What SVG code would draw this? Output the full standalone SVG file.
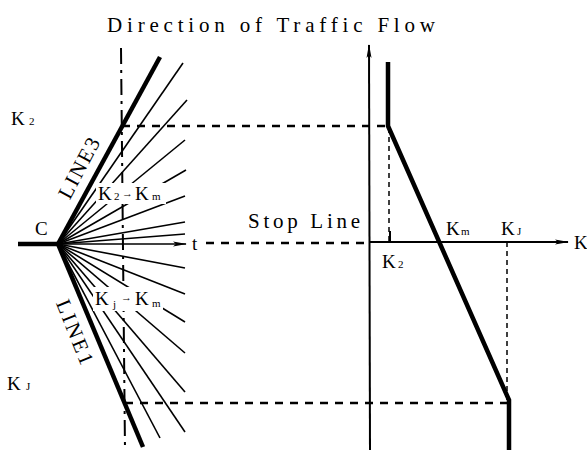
<svg xmlns="http://www.w3.org/2000/svg" width="587" height="450" viewBox="0 0 587 450">
<style>
.thick{stroke:#000;stroke-width:4.5;fill:none}
.fan{stroke:#000;stroke-width:1.6;fill:none}
.dash{stroke:#000;stroke-width:2.5;stroke-dasharray:8 7;fill:none}
.tdash{stroke:#000;stroke-width:1.5;stroke-dasharray:5 4;fill:none}
.axis{stroke:#000;stroke-width:2;fill:none}
.dashdot{stroke:#000;stroke-width:2;stroke-dasharray:16 6 3 6;fill:none}
.mono{font-family:"Liberation Serif",serif;font-size:21px;fill:#000}
.lbl{font-family:"Liberation Serif",serif;font-size:19px;fill:#000}
.sub{font-size:11px}
.arrw{font-size:11px}
.ko{fill:#fff}
</style>
<defs>
<marker id="arr" viewBox="0 0 14 6" refX="13" refY="3" markerWidth="14" markerHeight="6" orient="auto" markerUnits="userSpaceOnUse">
<path d="M0,0.5 L14,3 L0,5.5 L3,3 z" fill="#000"/>
</marker>
</defs>
<g id="connectors">
<line class="dashdot" x1="121" y1="48" x2="125" y2="450"/>
<g id="fan">
<line class="fan" x1="58" y1="244" x2="183" y2="63"/>
<line class="fan" x1="58" y1="244" x2="187" y2="100"/>
<line class="fan" x1="58" y1="244" x2="185" y2="140"/>
<line class="fan" x1="58" y1="244" x2="186" y2="170"/>
<line class="fan" x1="58" y1="244" x2="185" y2="196"/>
<line class="fan" x1="58" y1="244" x2="185" y2="222"/>
<line class="fan" x1="58" y1="244" x2="185" y2="234"/>
<line class="fan" x1="58" y1="244" x2="185" y2="268"/>
<line class="fan" x1="58" y1="244" x2="185" y2="294"/>
<line class="fan" x1="58" y1="244" x2="185" y2="322"/>
<line class="fan" x1="58" y1="244" x2="185" y2="353"/>
<line class="fan" x1="58" y1="244" x2="185" y2="392"/>
<line class="fan" x1="58" y1="244" x2="185" y2="432"/>
<line class="fan" x1="58" y1="244" x2="160" y2="438"/>
</g>
<line class="fan" x1="58" y1="244" x2="186" y2="244" marker-end="url(#arr)"/>
<line class="thick" x1="18" y1="244" x2="60" y2="244"/>
<line id="line3" class="thick" x1="58" y1="244" x2="160" y2="57"/>
<line id="line1" class="thick" x1="58" y1="244" x2="143" y2="447"/>
<line class="dash" x1="122" y1="126" x2="388" y2="126"/>
<line class="dash" x1="125" y1="403" x2="509" y2="403"/>
<line class="dash" x1="206" y1="243" x2="370" y2="243"/>
<line class="axis" x1="370" y1="450" x2="369" y2="45" marker-end="url(#arr)"/>
<line class="axis" x1="370" y1="242" x2="568" y2="242" marker-end="url(#arr)"/>
<line class="tdash" x1="389" y1="128" x2="389" y2="242"/>
<line class="axis" x1="390" y1="231" x2="390" y2="242"/>
<line class="tdash" x1="507" y1="242" x2="507" y2="400"/>
<polyline class="thick" points="388,62 388,126 509,400 509,450"/>
</g>
<rect class="ko" x="96" y="183" width="70" height="21"/>
<rect class="ko" x="93" y="287" width="70" height="24"/>
<g id="title"><text class="mono" x="107" y="32" textLength="328" lengthAdjust="spacing">Direction of Traffic Flow</text></g>
<g id="stop-line"><text class="mono" x="248" y="228" textLength="112" lengthAdjust="spacing">Stop Line</text></g>
<g id="label-C"><text class="lbl" x="35" y="235">C</text></g>
<g id="label-t"><text class="lbl" x="192" y="250">t</text></g>
<g id="label-K2-left"><text class="lbl" x="11" y="125">K<tspan class="sub" x="29">2</tspan></text></g>
<g id="label-KJ-left"><text class="lbl" x="7" y="390">K<tspan class="sub" x="26">J</tspan></text></g>
<g id="label-line3"><text class="mono" font-size="19" transform="translate(79,168) rotate(-62)" x="-33" y="7" textLength="66" lengthAdjust="spacing">LINE3</text></g>
<g id="label-line1"><text class="mono" font-size="19" transform="translate(75,332) rotate(68)" x="-34" y="7" textLength="68" lengthAdjust="spacing">LINE1</text></g>
<g id="label-K2Km"><text class="lbl" x="98" y="200">K<tspan class="sub" x="114">2</tspan><tspan class="arrw" x="122" y="197">→</tspan><tspan x="135" y="200">K</tspan><tspan class="sub" x="152">m</tspan></text></g>
<g id="label-KjKm"><text class="lbl" x="95" y="305">K<tspan class="sub" x="113" y="308">j</tspan><tspan class="arrw" x="121" y="301">→</tspan><tspan x="135" y="305">K</tspan><tspan class="sub" x="152" y="307">m</tspan></text></g>
<g id="label-K2-right"><text class="lbl" x="382" y="268">K<tspan class="sub" x="398">2</tspan></text></g>
<g id="label-Km"><text class="lbl" x="446" y="235">K<tspan class="sub" x="461">m</tspan></text></g>
<g id="label-KJ-right"><text class="lbl" x="501" y="235">K<tspan class="sub" x="517">J</tspan></text></g>
<g id="label-K-axis"><text class="lbl" x="574" y="249">K</text></g>
</svg>
